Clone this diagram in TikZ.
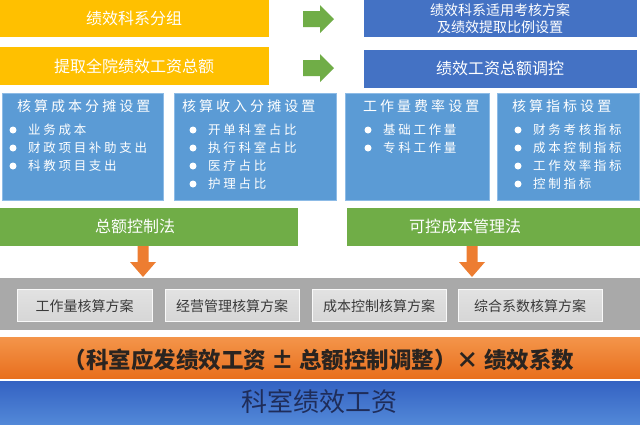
\documentclass[tikz,border=0pt]{standalone}
\usepackage{fontspec}
\setmainfont{Noto Sans CJK SC}
\newfontfamily\cjkls[LetterSpace=21.5]{Noto Sans CJK SC}
\definecolor{cyellow}{HTML}{FFC000}
\definecolor{cbluetop}{HTML}{4472C4}
\definecolor{cbluebox}{HTML}{5B9BD5}
\definecolor{cblueedge}{HTML}{8DBBE6}
\definecolor{cgreen}{HTML}{70AD47}
\definecolor{corange}{HTML}{ED7D31}
\definecolor{corangetop}{HTML}{F4954A}
\definecolor{corangebot}{HTML}{E86F1E}
\definecolor{cgrayband}{HTML}{A9A9A9}
\definecolor{cgraybox}{HTML}{D6D6D6}
\definecolor{cgrayboxtop}{HTML}{E2E2E2}
\definecolor{cgraytext}{HTML}{3A3A3A}
\definecolor{cnavy}{HTML}{1F2D5A}
\definecolor{cbotblue1}{HTML}{3462C2}
\definecolor{cbotblue2}{HTML}{5288D8}
\definecolor{cdark}{HTML}{2A2420}
\begin{document}
\begin{tikzpicture}[x=1pt,y=-1pt,
  rect/.style={draw=none, inner sep=0pt, outer sep=0pt, anchor=north west},
  toptext/.style={text=white, font=\fontsize{16}{19}\selectfont, inner sep=0pt},
  boxtitle/.style={text=white, anchor=west, inner sep=0pt, font=\cjkls\fontsize{14}{16}\selectfont},
  boxitem/.style={text=white, anchor=west, inner sep=0pt, font=\cjkls\fontsize{12.5}{14}\selectfont},
  bullet/.style={circle, fill=white, minimum size=7pt, inner sep=0pt},
  schemebox/.style={rect, top color=cgrayboxtop, bottom color=cgraybox, draw=white!85!cgraybox, line width=0.6pt},
  schemetext/.style={text=cgraytext, inner sep=0pt, font=\fontsize{14}{16}\selectfont},
  greenarrow/.style={fill=cgreen},
  orangearrow/.style={fill=corange}
]
\useasboundingbox (0,0) rectangle (640,424);
\fill[white] (0,0) rectangle (640,424);

% top yellow boxes
\node[rect, fill=cyellow, minimum width=269pt, minimum height=37pt] (y1) at (0,0) {};
\node[toptext] (y1t) at (134,18) {绩效科系分组};
\node[rect, fill=cyellow, minimum width=269pt, minimum height=38pt] (y2) at (0,47) {};
\node[toptext] (y2t) at (134,66) {提取全院绩效工资总额};

% top blue boxes
\node[rect, fill=cbluetop, minimum width=273pt, minimum height=37pt] (b1) at (364,0) {};
\node[toptext, align=center, font=\fontsize{14}{17}\selectfont] (b1t) at (500,18.5) {绩效科系适用考核方案\\及绩效提取比例设置};
\node[rect, fill=cbluetop, minimum width=273pt, minimum height=38pt] (b2) at (364,50) {};
\node[toptext] (b2t) at (500,68.5) {绩效工资总额调控};

% green block arrows
\fill[greenarrow] (303,11) -- (320,11) -- (320,5) -- (334,19) -- (320,33) -- (320,27) -- (303,27) -- cycle;
\fill[greenarrow] (303,60) -- (320,60) -- (320,54) -- (334,68) -- (320,82) -- (320,76) -- (303,76) -- cycle;

% four blue boxes
\node[rect, fill=cbluebox, draw=cblueedge, line width=0.8pt, minimum width=161pt, minimum height=107pt] (s1) at (2,93) {};
\node[rect, fill=cbluebox, draw=cblueedge, line width=0.8pt, minimum width=162pt, minimum height=107pt] (s2) at (174,93) {};
\node[rect, fill=cbluebox, draw=cblueedge, line width=0.8pt, minimum width=144pt, minimum height=107pt] (s3) at (345,93) {};
\node[rect, fill=cbluebox, draw=cblueedge, line width=0.8pt, minimum width=142pt, minimum height=107pt] (s4) at (497,93) {};

\node[boxtitle] (s1t) at (17,106) {核算成本分摊设置};
\node[bullet] (s1b1) at (13,130) {};
\node[boxitem] (s1i1) at (28,130) {业务成本};
\node[bullet] (s1b2) at (13,148) {};
\node[boxitem] (s1i2) at (28,148) {财政项目补助支出};
\node[bullet] (s1b3) at (13,166) {};
\node[boxitem] (s1i3) at (28,166) {科教项目支出};

\node[boxtitle] (s2t) at (182,106) {核算收入分摊设置};
\node[bullet] (s2b1) at (193,130) {};
\node[boxitem] (s2i1) at (208,130) {开单科室占比};
\node[bullet] (s2b2) at (193,148) {};
\node[boxitem] (s2i2) at (208,148) {执行科室占比};
\node[bullet] (s2b3) at (193,166) {};
\node[boxitem] (s2i3) at (208,166) {医疗占比};
\node[bullet] (s2b4) at (193,184) {};
\node[boxitem] (s2i4) at (208,184) {护理占比};

\node[boxtitle] (s3t) at (363,106) {工作量费率设置};
\node[bullet] (s3b1) at (368,130) {};
\node[boxitem] (s3i1) at (383,130) {基础工作量};
\node[bullet] (s3b2) at (368,148) {};
\node[boxitem] (s3i2) at (383,148) {专科工作量};

\node[boxtitle] (s4t) at (512,106) {核算指标设置};
\node[bullet] (s4b1) at (518,130) {};
\node[boxitem] (s4i1) at (533,130) {财务考核指标};
\node[bullet] (s4b2) at (518,148) {};
\node[boxitem] (s4i2) at (533,148) {成本控制指标};
\node[bullet] (s4b3) at (518,166) {};
\node[boxitem] (s4i3) at (533,166) {工作效率指标};
\node[bullet] (s4b4) at (518,184) {};
\node[boxitem] (s4i4) at (533,184) {控制指标};

% green bars
\node[rect, fill=cgreen, minimum width=298pt, minimum height=38pt] (g1) at (0,208) {};
\node[toptext] (g1t) at (135,226) {总额控制法};
\node[rect, fill=cgreen, minimum width=293pt, minimum height=38pt] (g2) at (347,208) {};
\node[toptext] (g2t) at (465,226) {可控成本管理法};

% orange block arrows
\fill[orangearrow] (137.5,246) -- (148.5,246) -- (148.5,262) -- (156,262) -- (143,277) -- (130,262) -- (137.5,262) -- cycle;
\fill[orangearrow] (466.5,246) -- (477.5,246) -- (477.5,262) -- (485,262) -- (472,277) -- (459,262) -- (466.5,262) -- cycle;

% gray band
\node[rect, fill=cgrayband, minimum width=640pt, minimum height=52pt] (gb) at (0,278) {};
\node[schemebox, minimum width=135pt, minimum height=32pt] (p1) at (17,289) {};
\node[schemetext] (p1t) at (84.5,306) {工作量核算方案};
\node[schemebox, minimum width=134pt, minimum height=32pt] (p2) at (165,289) {};
\node[schemetext] (p2t) at (232,306) {经营管理核算方案};
\node[schemebox, minimum width=134pt, minimum height=32pt] (p3) at (312,289) {};
\node[schemetext] (p3t) at (379,306) {成本控制核算方案};
\node[schemebox, minimum width=144pt, minimum height=32pt] (p4) at (458,289) {};
\node[schemetext] (p4t) at (530,306) {综合系数核算方案};

% orange formula band
\node[rect, top color=corangetop, bottom color=corangebot, minimum width=640pt, minimum height=41pt] (ob) at (0,337) {};
\node[inner sep=0pt, text=cdark, font=\bfseries\fontsize{22.5}{26}\selectfont] (obt) at (319,360) {（科室应发绩效工资 ± 总额控制调整）× 绩效系数};

% bottom blue band
\node[rect, top color=cbotblue1, bottom color=cbotblue2, minimum width=640pt, minimum height=43pt] (bb) at (0,381) {};
\node[inner sep=0pt, text=cnavy, font=\fontsize{26}{29}\selectfont] (bbt) at (319,402) {科室绩效工资};
\end{tikzpicture}
\end{document}
